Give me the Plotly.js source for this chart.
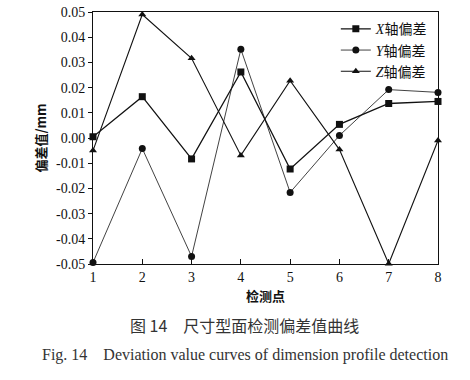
<!DOCTYPE html>
<html><head><meta charset="utf-8">
<script src="https://cdn.plot.ly/plotly-3.0.1.min.js"></script>
<style>body{margin:0;background:#fff}#c{width:470px;height:380px}</style>
</head><body><div id="c"></div>
<script>
const points = [1,2,3,4,5,6,7,8];
const xDev = [0.0005,0.0164,-0.0083,0.0262,-0.0123,0.0054,0.0137,0.0145];
const yDev = [-0.0494,-0.0042,-0.047,0.0352,-0.0216,0.001,0.0192,0.0181];
const zDev = [-0.005,0.049,0.0316,-0.0069,0.0227,-0.0046,-0.0499,-0.001];
const names = ['<i>X</i>轴偏差','<i>Y</i>轴偏差','<i>Z</i>轴偏差'];
const yTicks = [-0.05,-0.04,-0.03,-0.02,-0.01,0,0.01,0.02,0.03,0.04,0.05];
const yTickText = ['-0.05','-0.04','-0.03','-0.02','-0.01','0.00','0.01','0.02','0.03','0.04','0.05'];

const serif = 'Liberation Serif, Noto Sans CJK SC, serif';
const cjk = 'Noto Sans CJK SC, sans-serif';
function tr(y, name, sym, w){
  return {x: points, y: y, name: name, type:'scatter', mode:'lines+markers',
    line:{color:'#111', width:w}, marker:{symbol:sym, size:7, color:'#111'}, cliponaxis:false};
}
const data = [tr(xDev,names[0],'square',1.3), tr(yDev,names[1],'circle',0.8), tr(zDev,names[2],'triangle-up',1.1)];
const layout = {
  width:470, height:380, margin:{l:93,r:32,t:12,b:116},
  paper_bgcolor:'#fff', plot_bgcolor:'#fff', showlegend:true,
  font:{family:serif, size:13, color:'#111'},
  xaxis:{range:[1,8], tickvals:points, ticks:'inside', ticklen:5, tickcolor:'#111',
    showgrid:false, zeroline:false, showline:true, linecolor:'#111', linewidth:1, mirror:true,
    tickfont:{family:serif,size:14}, title:{text:'<b>检测点</b>', font:{family:cjk,size:13}, standoff:8}},
  yaxis:{range:[-0.05,0.05], tickvals:yTicks, ticktext:yTickText, ticks:'outside', ticklen:4, tickcolor:'#111',
    showgrid:false, zeroline:false, showline:true, linecolor:'#111', linewidth:1, mirror:true,
    tickfont:{family:serif,size:14}, title:{text:'<b>偏差值/mm</b>', font:{family:cjk,size:13}, standoff:6}},
  legend:{x:0.985, y:0.995, xanchor:'right', yanchor:'top', bgcolor:'rgba(0,0,0,0)',
    font:{family:serif,size:14}, tracegroupgap:0, itemwidth:30},
  annotations:[
    {text:'图 14　尺寸型面检测偏差值曲线', xref:'paper', yref:'paper', x:0.44, y:-0.243, showarrow:false,
     xanchor:'center', yanchor:'middle', font:{family:cjk, size:16, color:'#333'}},
    {text:'Fig. 14　Deviation value curves of dimension profile detection', xref:'paper', yref:'paper', x:0.44, y:-0.362, showarrow:false,
     xanchor:'center', yanchor:'middle', font:{family:serif, size:16, color:'#333'}}
  ]
};
Plotly.newPlot('c', data, layout, {displayModeBar:false, staticPlot:true});
</script></body></html>
